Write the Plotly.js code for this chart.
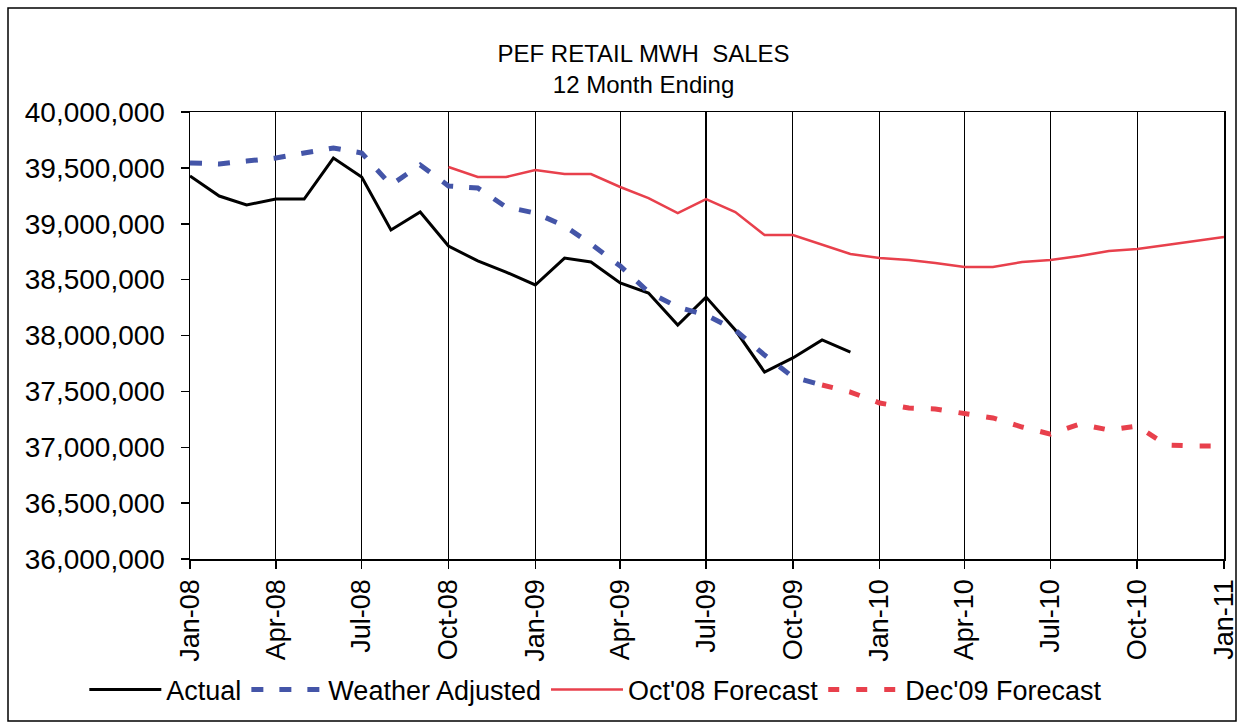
<!DOCTYPE html>
<html>
<head>
<meta charset="utf-8">
<script src="https://cdn.plot.ly/plotly-3.0.1.min.js"></script>
<style>
  html, body { margin: 0; padding: 0; background: #fff; }
  #chart { width: 1240px; height: 728px; }
</style>
</head>
<body>
<div id="chart"></div>
<script>
// ---- Data ----
const actualMonths = ["2008-01-01","2008-02-01","2008-03-01","2008-04-01","2008-05-01","2008-06-01",
  "2008-07-01","2008-08-01","2008-09-01","2008-10-01","2008-11-01","2008-12-01",
  "2009-01-01","2009-02-01","2009-03-01","2009-04-01","2009-05-01","2009-06-01",
  "2009-07-01","2009-08-01","2009-09-01","2009-10-01","2009-11-01","2009-12-01"];
const actual = [39427000, 39248000, 39168000, 39221000, 39221000, 39588000,
  39418000, 38944000, 39105000, 38801000, 38667000, 38568000,
  38452000, 38693000, 38658000, 38470000, 38380000, 38094000,
  38344000, 38049000, 37673000, 37799000, 37960000, 37852000];

const weatherMonths = ["2008-01-01","2008-02-01","2008-03-01","2008-04-01","2008-05-01","2008-06-01",
  "2008-07-01","2008-08-01","2008-09-01","2008-10-01","2008-11-01","2008-12-01",
  "2009-01-01","2009-02-01","2009-03-01","2009-04-01","2009-05-01","2009-06-01",
  "2009-07-01","2009-08-01","2009-09-01","2009-10-01","2009-11-01"];
const weatherAdjusted = [39544000, 39535000, 39561000, 39588000, 39633000, 39678000,
  39633000, 39347000, 39526000, 39338000, 39320000, 39150000,
  39096000, 38980000, 38819000, 38622000, 38389000, 38255000,
  38183000, 38049000, 37825000, 37629000, 37557000];

const oct08Months = ["2008-10-01","2008-11-01","2008-12-01",
  "2009-01-01","2009-02-01","2009-03-01","2009-04-01","2009-05-01","2009-06-01",
  "2009-07-01","2009-08-01","2009-09-01","2009-10-01","2009-11-01","2009-12-01",
  "2010-01-01","2010-02-01","2010-03-01","2010-04-01","2010-05-01","2010-06-01",
  "2010-07-01","2010-08-01","2010-09-01","2010-10-01","2010-11-01","2010-12-01",
  "2011-01-01"];
const oct08Forecast = [39508000, 39418000, 39418000,
  39481000, 39445000, 39445000, 39329000, 39230000, 39096000,
  39221000, 39105000, 38899000, 38899000, 38810000, 38729000,
  38693000, 38676000, 38649000, 38613000, 38613000, 38658000,
  38676000, 38711000, 38756000, 38774000, 38810000, 38846000,
  38881000];

const dec09Months = ["2009-11-01","2009-12-01",
  "2010-01-01","2010-02-01","2010-03-01","2010-04-01","2010-05-01","2010-06-01",
  "2010-07-01","2010-08-01","2010-09-01","2010-10-01","2010-11-01","2010-12-01",
  "2011-01-01"];
const dec09Forecast = [37557000, 37494000,
  37396000, 37351000, 37342000, 37306000, 37262000, 37181000,
  37118000, 37208000, 37154000, 37190000, 37020000, 37011000,
  37011000];

const xTickVals = ["2008-01-01","2008-04-01","2008-07-01","2008-10-01","2009-01-01","2009-04-01",
  "2009-07-01","2009-10-01","2010-01-01","2010-04-01","2010-07-01","2010-10-01","2011-01-01"];
const xTickText = ["Jan-08","Apr-08","Jul-08","Oct-08","Jan-09","Apr-09",
  "Jul-09","Oct-09","Jan-10","Apr-10","Jul-10","Oct-10","Jan-11"];
const yTickVals = [36000000, 36500000, 37000000, 37500000, 38000000, 38500000, 39000000, 39500000, 40000000];
const yTickText = ["36,000,000","36,500,000","37,000,000","37,500,000","38,000,000","38,500,000","39,000,000","39,500,000","40,000,000"];

const FONT = "Liberation Sans, Arial, Helvetica, sans-serif";

const traces = [
  { name: "Actual", x: actualMonths, y: actual, type: "scatter", mode: "lines",
    line: { color: "#000000", width: 3 } },
  { name: "Weather Adjusted", x: weatherMonths, y: weatherAdjusted, type: "scatter", mode: "lines",
    line: { color: "#4455a8", width: 5, dash: "12px,16px" } },
  { name: "Oct'08 Forecast", x: oct08Months, y: oct08Forecast, type: "scatter", mode: "lines",
    line: { color: "#e8404c", width: 2.5 } },
  { name: "Dec'09 Forecast", x: dec09Months, y: dec09Forecast, type: "scatter", mode: "lines",
    line: { color: "#e8404c", width: 5, dash: "11px,17px" } }
];

const layout = {
  width: 1240, height: 728,
  margin: { l: 190, r: 16, t: 112, b: 169 },
  paper_bgcolor: "#ffffff",
  plot_bgcolor: "#ffffff",
  font: { family: FONT, color: "#000000" },
  title: {
    text: "PEF RETAIL MWH  SALES<br>12 Month Ending",
    font: { family: FONT, size: 24, color: "#000000" },
    xref: "container", x: 0.519, xanchor: "center",
    yref: "container", y: 1 - 62 / 728, yanchor: "middle"
  },
  xaxis: {
    type: "date",
    range: ["2008-01-01", "2011-01-01"],
    tickmode: "array", tickvals: xTickVals, ticktext: xTickText,
    tickangle: -90,
    tickfont: { family: FONT, size: 27, color: "#000000" },
    ticklabeloverflow: "allow",
    ticks: "outside", ticklen: 8, tickcolor: "#000000", tickwidth: 1.5,
    showgrid: true, gridcolor: "#000000", gridwidth: 1.2,
    showline: true, linecolor: "#000000", linewidth: 1.5, mirror: true,
    zeroline: false, fixedrange: true
  },
  yaxis: {
    range: [36000000, 40000000],
    tickmode: "array", tickvals: yTickVals, ticktext: yTickText,
    tickfont: { family: FONT, size: 28, color: "#000000" },
    ticks: "outside", ticklen: 8, tickcolor: "#000000", tickwidth: 1.5,
    ticklabelstandoff: 10,
    showgrid: false,
    showline: true, linecolor: "#000000", linewidth: 1.5, mirror: true,
    zeroline: false, fixedrange: true
  },
  showlegend: true,
  legend: {
    orientation: "h",
    xref: "container", x: 0.068, xanchor: "left",
    yref: "container", y: 1 - 690 / 728, yanchor: "middle",
    font: { family: FONT, size: 27, color: "#000000" },
    bgcolor: "rgba(0,0,0,0)",
    traceorder: "normal",
    itemwidth: 72
  },
  shapes: [{
    type: "rect", xref: "paper", yref: "paper",
    x0: (8 - 190) / 1034, x1: (1236 - 190) / 1034,
    y0: (559 - 721) / 447, y1: (559 - 8) / 447,
    line: { color: "#000000", width: 1.5 }, fillcolor: "rgba(0,0,0,0)",
    layer: "below"
  }]
};

Plotly.newPlot("chart", traces, layout, { displayModeBar: false, staticPlot: true });
</script>
</body>
</html>
